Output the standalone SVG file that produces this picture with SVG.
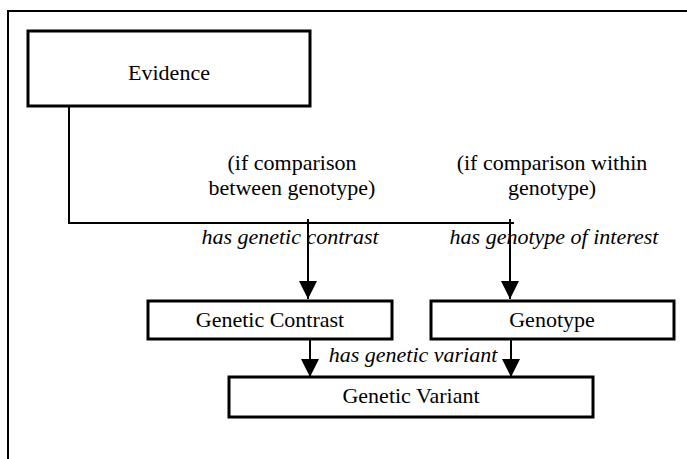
<svg xmlns="http://www.w3.org/2000/svg" width="687" height="459" viewBox="0 0 687 459">
<defs>
<style>
.box{fill:#fff;stroke:#000;stroke-width:3}
.ln{fill:none;stroke:#000;stroke-width:2}
.t{font-size:22px;fill:#000;text-anchor:middle}
.i{font-style:italic}
</style>
<marker id="ah" viewBox="0 0 18 18" refX="18" refY="9" markerWidth="18" markerHeight="18" markerUnits="userSpaceOnUse" orient="auto">
<path d="M0,0 L18,9 L0,18 Z" fill="#000"/>
</marker>
</defs>
<rect width="687" height="459" fill="#fff"/>
<rect x="8" y="11" width="700" height="470" fill="none" stroke="#000" stroke-width="2"/>
<g font-family="'Liberation Serif', 'DejaVu Serif', serif">
<g id="connectors">
<polyline class="ln" points="69,106 69,223 514,223"/>
<line class="ln" x1="308" y1="219" x2="308" y2="299" marker-end="url(#ah)"/>
<line class="ln" x1="510" y1="219" x2="510" y2="299" marker-end="url(#ah)"/>
<line class="ln" x1="310" y1="339" x2="310" y2="377" marker-end="url(#ah)"/>
<line class="ln" x1="511" y1="339" x2="511" y2="377" marker-end="url(#ah)"/>
<text class="t" x="292" y="170">(if comparison</text>
<text class="t" x="292" y="195">between genotype)</text>
<text class="t" x="552" y="170">(if comparison within</text>
<text class="t" x="552" y="195">genotype)</text>
<text class="t i" x="290" y="244">has genetic contrast</text>
<text class="t i" x="554" y="244">has genotype of interest</text>
<text class="t i" x="413" y="362">has genetic variant</text>
</g>
<g id="evidence">
<rect class="box" x="28" y="31" width="282" height="75"/>
<text class="t" x="169" y="80">Evidence</text>
</g>
<g id="genetic-contrast">
<rect class="box" x="148" y="301" width="244" height="38"/>
<text class="t" x="270" y="327">Genetic Contrast</text>
</g>
<g id="genotype">
<rect class="box" x="431" y="301" width="243" height="38"/>
<text class="t" x="552" y="327">Genotype</text>
</g>
<g id="genetic-variant">
<rect class="box" x="229" y="377" width="364" height="40"/>
<text class="t" x="411" y="403">Genetic Variant</text>
</g>
</g>
</svg>
